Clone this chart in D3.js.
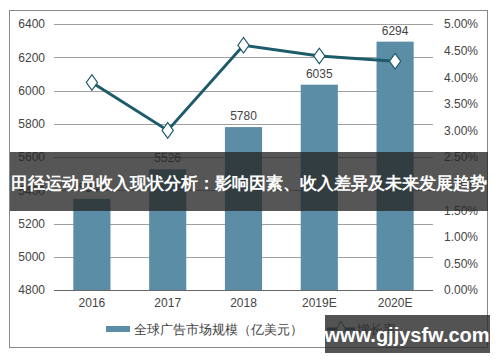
<!DOCTYPE html>
<html>
<head>
<meta charset="utf-8">
<script src="https://cdn.jsdelivr.net/npm/d3@7"></script>
<style>
  body { margin: 0; background: #fff; }
  svg text { font-family: "Liberation Sans", Arial, sans-serif; }
</style>
</head>
<body>
<svg id="chart" width="500" height="362"></svg>
<script>
// data
var years = ["2016", "2017", "2018", "2019E", "2020E"];
var marketSize = [5348, 5526, 5780, 6035, 6294];   // 亿美元
var growthRate = [3.9, 3.0, 4.6, 4.4, 4.3];          // %
var leftTicks = [4800, 5000, 5200, 5400, 5600, 5800, 6000, 6200, 6400];
var rightTicks = [0, 0.5, 1, 1.5, 2, 2.5, 3, 3.5, 4, 4.5, 5];
var barName = "全球广告市场规模（亿美元）";
var lineName = "增长率";
var bannerText = "田径运动员收入现状分析：影响因素、收入差异及未来发展趋势";
var watermark = "www.gjjysfw.com";

var svg = d3.select("#chart");
var barColor = "#5b8ea6", lineColor = "#1d5a6a";

var x = d3.scaleBand().domain(years).range([54, 433]).paddingInner(0.51).paddingOuter(0.255);
var y = d3.scaleLinear().domain([4800, 6400]).range([290, 24]);
var y2 = d3.scaleLinear().domain([0, 5]).range([290, 24]);

// outer frame
svg.append("rect").attr("x", 9.5).attr("y", 10.5).attr("width", 478).attr("height", 337)
  .attr("fill", "none").attr("stroke", "#888");

// grid
svg.append("g").selectAll("line").data(leftTicks).enter().append("line")
  .attr("x1", 54).attr("x2", 433)
  .attr("y1", function(d){ return Math.round(y(d)) + 0.5; })
  .attr("y2", function(d){ return Math.round(y(d)) + 0.5; })
  .attr("stroke", function(d){ return d === 4800 ? "#666" : "#a0a0a0"; });

// left axis
var yAxis = d3.axisLeft(y).tickValues(leftTicks).tickSize(0).tickPadding(0).tickFormat(d3.format("d"));
var gl = svg.append("g").attr("transform", "translate(45,0)").call(yAxis);
gl.select(".domain").remove();
gl.selectAll("text").attr("font-size", 12).attr("fill", "#444").attr("font-family", "Liberation Sans, Arial");

// right axis
var yAxis2 = d3.axisRight(y2).tickValues(rightTicks).tickSize(0).tickPadding(0)
  .tickFormat(function(d){ return d.toFixed(2) + "%"; });
var gr = svg.append("g").attr("transform", "translate(444,0)").call(yAxis2);
gr.select(".domain").remove();
gr.selectAll("text").attr("font-size", 12).attr("fill", "#444").attr("font-family", "Liberation Sans, Arial");

// x axis labels
var xAxis = d3.axisBottom(x).tickSize(0).tickPadding(8);
var gx = svg.append("g").attr("transform", "translate(0,290)").call(xAxis);
gx.select(".domain").remove();
gx.selectAll("text").attr("font-size", 12).attr("fill", "#444").attr("font-family", "Liberation Sans, Arial");

// bars
svg.append("g").selectAll("rect").data(marketSize).enter().append("rect")
  .attr("x", function(d, i){ return x(years[i]); })
  .attr("width", x.bandwidth())
  .attr("y", function(d){ return y(d); })
  .attr("height", function(d){ return y(4800) - y(d); })
  .attr("fill", barColor);

svg.append("g").selectAll("text").data(marketSize).enter().append("text")
  .attr("x", function(d, i){ return x(years[i]) + x.bandwidth() / 2; })
  .attr("y", function(d){ return y(d) - 7; })
  .attr("text-anchor", "middle").attr("font-size", 12).attr("fill", "#444")
  .text(function(d){ return d; });

// growth line
var line = d3.line()
  .x(function(d, i){ return x(years[i]) + x.bandwidth() / 2; })
  .y(function(d){ return y2(d); });
svg.append("path").datum(growthRate).attr("d", line)
  .attr("fill", "none").attr("stroke", lineColor).attr("stroke-width", 3);

var diamond = d3.symbol().type(d3.symbolDiamond).size(70);
svg.append("g").selectAll("path").data(growthRate).enter().append("path")
  .attr("d", diamond)
  .attr("transform", function(d, i){
    return "translate(" + (x(years[i]) + x.bandwidth() / 2) + "," + y2(d) + ") scale(1.25,1)";
  })
  .attr("fill", "#fff").attr("stroke", lineColor).attr("stroke-width", 1);

// legend
var lg = svg.append("g");
lg.append("rect").attr("x", 106).attr("y", 326).attr("width", 24).attr("height", 6).attr("fill", barColor);
lg.append("text").attr("x", 134).attr("y", 334).attr("font-size", 12.5).attr("fill", "#444")
  .attr("font-family", "Noto Sans CJK SC").text(barName);
lg.append("line").attr("x1", 327).attr("x2", 355).attr("y1", 329).attr("y2", 329)
  .attr("stroke", lineColor).attr("stroke-width", 3);
lg.append("path").attr("d", diamond).attr("transform", "translate(341,329)")
  .attr("fill", "#fff").attr("stroke", lineColor);
lg.append("text").attr("x", 357).attr("y", 334).attr("font-size", 12.5).attr("fill", "#444")
  .attr("font-family", "Noto Sans CJK SC").text(lineName);

// title banner overlay
svg.append("rect").attr("x", 10).attr("y", 152).attr("width", 478).attr("height", 59)
  .attr("fill", "rgba(38,38,38,0.78)");
svg.append("text").attr("x", 249).attr("y", 189).attr("text-anchor", "middle")
  .attr("font-size", 17).attr("font-weight", "bold").attr("fill", "#fff")
  .attr("font-family", "Noto Sans CJK SC").text(bannerText);

// watermark
svg.append("rect").attr("x", 325).attr("y", 315).attr("width", 165).attr("height", 38)
  .attr("fill", "rgba(45,45,45,0.82)");
svg.append("text").attr("x", 407).attr("y", 342).attr("text-anchor", "middle")
  .attr("font-size", 20).attr("font-weight", "bold").attr("fill", "#fff")
  .attr("font-family", "DejaVu Sans").text(watermark);
</script>
</body>
</html>
